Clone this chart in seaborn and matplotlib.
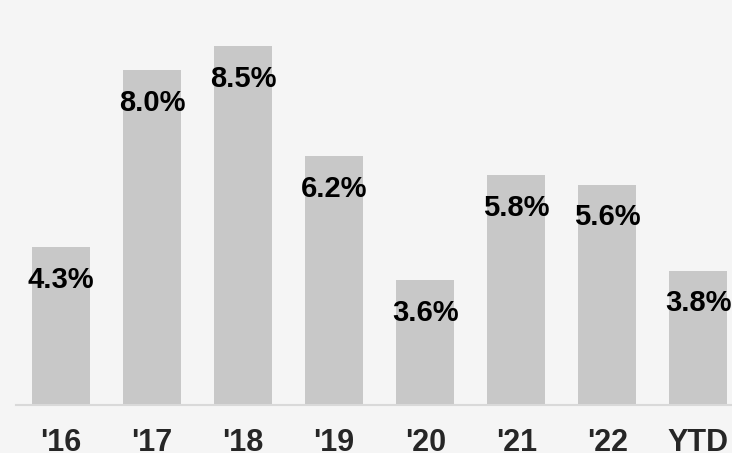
import matplotlib
matplotlib.use('Agg')

import matplotlib.pyplot as plt
import seaborn as sns
import pandas as pd

# ============================================================
# Data
# ============================================================

years = ["'16", "'17", "'18", "'19", "'20", "'21", "'22", "YTD"]
growth = [4.3, 8.0, 8.5, 6.2, 3.6, 5.8, 5.6, 3.8]

df = pd.DataFrame({"year": years, "growth": growth})

# ============================================================
# Figure
# ============================================================

sns.set_style("white")
plt.rcParams['font.family'] = ['Liberation Sans', 'DejaVu Sans']

fig = plt.figure(figsize=(7.32, 4.53), dpi=100, facecolor="#f5f5f5")
ax = fig.add_axes([16 / 732, 1 - 405 / 453, 1 - 16 / 732, 405 / 453])
ax.set_facecolor("#f5f5f5")

sns.barplot(
    data=df,
    x="year",
    y="growth",
    color="#c8c8c8",
    saturation=1,
    width=0.64,
    linewidth=0,
    ax=ax
)

# value labels sit inside the bar, just below its top
for i, v in enumerate(growth):
    ax.text(
        i, v - 0.69, f"{v:.1f}%",
        ha="center", va="center",
        fontsize=21, fontweight="bold", color="black"
    )

ax.set_xlim(-0.495, 7.37)
ax.set_ylim(0.984, 9.464)

ax.set_xlabel("")
ax.set_ylabel("")
ax.set_yticks([])

ax.tick_params(axis="x", length=0, pad=16.5, labelsize=22)
for lbl in ax.get_xticklabels():
    lbl.set_fontweight("bold")

for s in ["top", "right", "left"]:
    ax.spines[s].set_visible(False)
ax.spines["bottom"].set_color("#d9d9d9")
ax.spines["bottom"].set_linewidth(1.5)

plt.savefig("out.png", dpi=100, facecolor=fig.get_facecolor())
plt.close()
